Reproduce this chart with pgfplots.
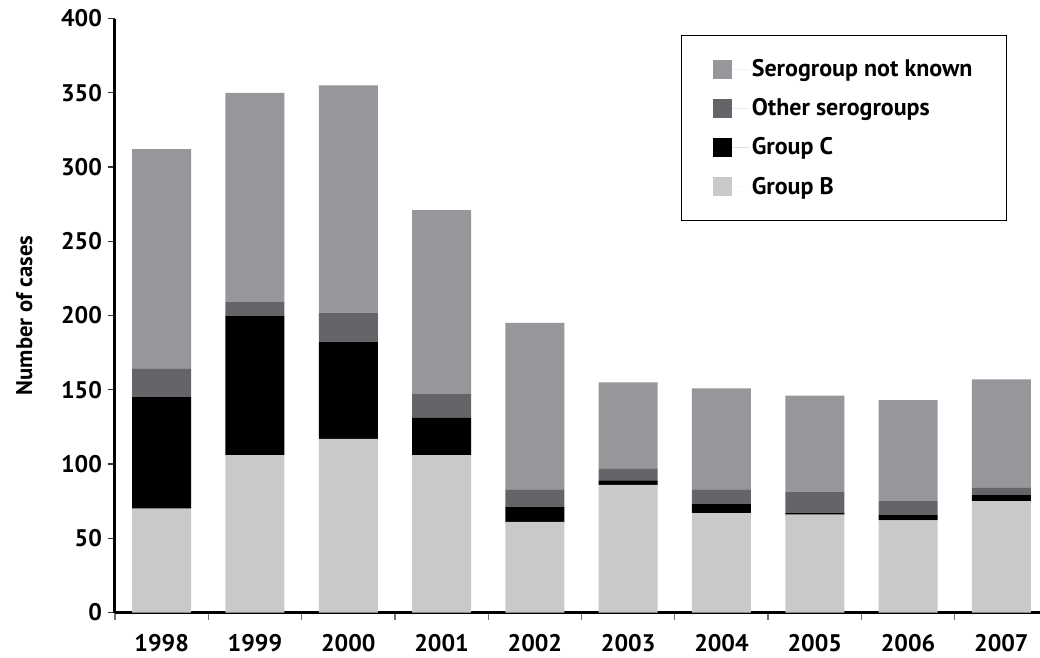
\documentclass[border=0pt]{standalone}
\usepackage{fontspec}
\setmainfont{PT Sans}
\usepackage{pgfplots}
\usepackage{pgfplotstable}
\pgfplotsset{compat=1.18}
\definecolor{cUnk}{HTML}{96979A}
\definecolor{cOth}{HTML}{646569}
\definecolor{cC}{HTML}{000000}
\definecolor{cB}{HTML}{C8C9CB}
\pgfplotstableread{
x B C O U
0 70 75 19 148
1 106 94 9 141
2 117 65 20 153
3 106 25 16 124
4 61 10 12 112
5 86 3 8 58
6 67 6 10 68
7 66 1 14 65
8 62 4 9 68
9 75 4 5 73
}\datatable
\begin{document}
\begin{tikzpicture}
\begin{axis}[
  scale only axis, width=693.75pt, height=445.5pt,
  ybar stacked, bar width=44.25pt,
  xmin=-0.5, xmax=9.414, ymin=0, ymax=400,
  axis x line=bottom, axis y line=left,
  axis line style={line width=2.25pt, -},
  tick align=outside,
  major tick length=5.25pt,
  ytick={0,50,...,400},
  ytick style={line width=0.8pt, black!80},
  xtick={-0.5,0.5,...,8.5},
  xticklabels={},
  xtick style={line width=1pt, black!55},
  extra x ticks={0,1,2,3,4,5,6,7,8,9},
  extra x tick labels={1998,1999,2000,2001,2002,2003,2004,2005,2006,2007},
  extra x tick style={major tick length=0pt, xticklabel style={inner sep=0pt, anchor=base, yshift=-29.5pt}},
  /pgf/number format/assume math mode=true,
  ticklabel style={font=\fontsize{18}{21}\selectfont\bfseries},
  yticklabel style={xshift=-1pt},
  ylabel={Number of cases},
  every axis y label/.style={at={(axis description cs:-0.098,0.5)}, rotate=90, anchor=center, font=\fontsize{17}{20}\selectfont\bfseries},
  reverse legend,
  legend cell align=left,
  legend image code/.code={\fill[#1] (0pt,-7.1pt) rectangle (14.25pt,7.1pt); \path (0pt,0pt) -- (27pt,0pt);},
  legend style={at={(axis description cs:0.9643,0.9722)}, anchor=north east, draw=black, line width=0.75pt, fill=white,
    inner xsep=23.5pt, inner ysep=16pt, row sep=11pt,
    font=\fontsize{18}{21}\selectfont\bfseries},
]
\addplot[fill=cB, draw=none] table[x=x,y=B]{\datatable};
\addplot[fill=cC, draw=none] table[x=x,y=C]{\datatable};
\addplot[fill=cOth, draw=none] table[x=x,y=O]{\datatable};
\addplot[fill=cUnk, draw=none] table[x=x,y=U]{\datatable};
\legend{Group B, Group C, Other serogroups, Serogroup not known}
\end{axis}
\pgfresetboundingbox
\path[use as bounding box] ([xshift=-86.25pt,yshift=-33.4pt]current axis.south west) rectangle ([yshift=13.9pt]current axis.north east);
\end{tikzpicture}
\end{document}
